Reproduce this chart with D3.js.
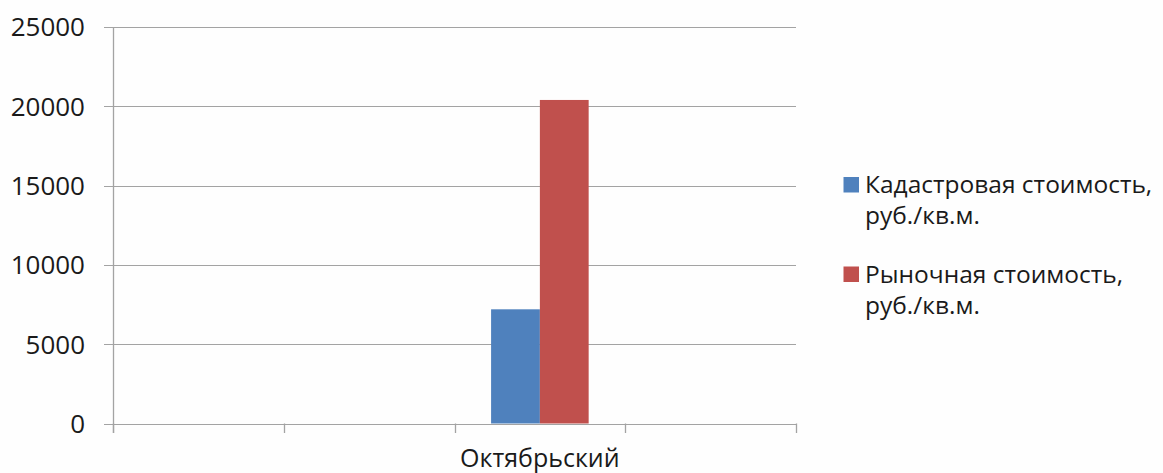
<!DOCTYPE html>
<html>
<head>
<meta charset="utf-8">
<script src="https://cdn.jsdelivr.net/npm/d3@7"></script>
<style>
  html, body { margin: 0; padding: 0; background: #fefefe; }
  svg { display: block; }
  text { font-family: "Open Sans", "Noto Sans", sans-serif; fill: #1a1a1a; }
</style>
</head>
<body>
<svg id="chart" width="1163" height="473"></svg>
<script>
// Category slots along the x axis (only one district carries data)
const categories = ["", "", "Октябрьский", ""];
// Cadastral value, rub per sq. m
const cadastral = [null, null, 7200, null];
// Market value, rub per sq. m
const market = [null, null, 20400, null];
const seriesNames = ["Кадастровая стоимость,\nруб./кв.м.", "Рыночная стоимость,\nруб./кв.м."];
const seriesColors = ["#4f81bd", "#c0504d"];
const yTicks = [0, 5000, 10000, 15000, 20000, 25000];

const svg = d3.select("#chart");
const plot = { left: 113, right: 796, top: 27, bottom: 423.5 };
const gridColor = "#a3a3a3";

const x = d3.scaleBand()
  .domain(d3.range(categories.length))
  .range([plot.left, plot.right])
  .paddingInner(0).paddingOuter(0);

const y = d3.scaleLinear()
  .domain([0, 25000])
  .range([plot.bottom, plot.top]);

// bar width: two bars per slot with a 150% gap
const barW = x.bandwidth() / (2 + 1.5);
const groupOffset = (x.bandwidth() - 2 * barW) / 2;

// horizontal gridlines
svg.append("g")
  .selectAll("line")
  .data(yTicks)
  .join("line")
  .attr("x1", plot.left - 9)
  .attr("x2", plot.right)
  .attr("y1", d => Math.round(y(d)) + 0.5)
  .attr("y2", d => Math.round(y(d)) + 0.5)
  .attr("stroke", gridColor)
  .attr("stroke-width", 1.2);

// y tick labels
svg.append("g")
  .selectAll("text")
  .data(yTicks)
  .join("text")
  .attr("x", plot.left - 28)
  .attr("y", d => y(d))
  .attr("dy", "0.36em")
  .attr("text-anchor", "end")
  .attr("font-size", "26px")
  .text(d => d);

// bars
const series = [cadastral, market];
series.forEach((vals, si) => {
  svg.append("g")
    .selectAll("rect")
    .data(vals.map((v, i) => ({ v, i })).filter(d => d.v != null))
    .join("rect")
    .attr("x", d => x(d.i) + groupOffset + si * barW)
    .attr("y", d => y(d.v))
    .attr("width", barW)
    .attr("height", d => y(0) - y(d.v))
    .attr("fill", seriesColors[si]);
});

// y axis line
svg.append("line")
  .attr("x1", plot.left + 0.5).attr("x2", plot.left + 0.5)
  .attr("y1", plot.top).attr("y2", plot.bottom + 9.5)
  .attr("stroke", gridColor).attr("stroke-width", 1.3);

// category axis with boundary tick marks
const bounds = d3.range(categories.length + 1).map(i => i === categories.length ? plot.right : x(i));
svg.append("g")
  .selectAll("line")
  .data(bounds)
  .join("line")
  .attr("x1", d => Math.round(d) + 0.5)
  .attr("x2", d => Math.round(d) + 0.5)
  .attr("y1", plot.bottom)
  .attr("y2", plot.bottom + 9.5)
  .attr("stroke", gridColor)
  .attr("stroke-width", 1.3);

// category labels
svg.append("g")
  .selectAll("text")
  .data(categories.map((c, i) => ({ c, i })).filter(d => d.c))
  .join("text")
  .attr("x", d => x(d.i) + x.bandwidth() / 2)
  .attr("y", 466.5)
  .attr("text-anchor", "middle")
  .attr("font-size", "25px")
  .text(d => d.c);

// legend
const legendTops = [177, 266.5];
const legend = svg.append("g");
seriesNames.forEach((name, si) => {
  const g = legend.append("g");
  g.append("rect")
    .attr("x", 843.5).attr("y", legendTops[si])
    .attr("width", 15.5).attr("height", 15.5)
    .attr("fill", seriesColors[si]);
  const t = g.append("text")
    .attr("x", 865)
    .attr("y", legendTops[si] + 16)
    .attr("font-size", "24.5px");
  name.split("\n").forEach((line, li) => {
    t.append("tspan")
      .attr("x", 865)
      .attr("dy", li === 0 ? 0 : 31)
      .text(line);
  });
});
</script>
</body>
</html>
